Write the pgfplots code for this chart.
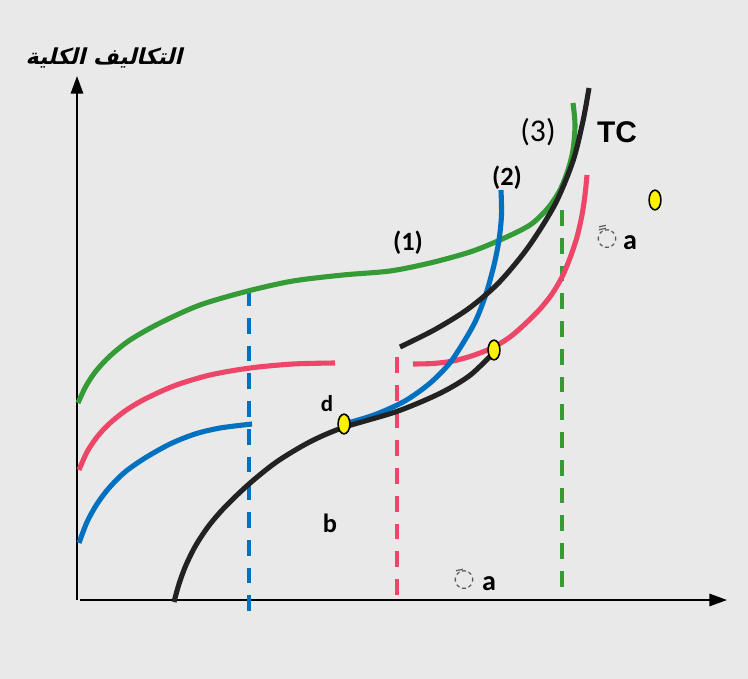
\documentclass[border=0pt]{standalone}
\usepackage{fontspec}
\setmainfont{Carlito}
\newfontfamily\arial{Liberation Sans}
\newfontfamily\dejavu[Script=Arabic]{DejaVu Sans}
\newfontfamily\arabicfont[Script=Arabic,FakeSlant=0.25]{DejaVu Sans}
\TeXXeTstate=1
\usepackage{pgfplots}
\pgfplotsset{compat=1.18}
\usetikzlibrary{arrows.meta}

\definecolor{bg}{HTML}{E9E9E9}
\definecolor{cgreen}{RGB}{53,155,55}
\definecolor{cpink}{RGB}{238,70,105}
\definecolor{cblue}{RGB}{0,112,192}
\definecolor{cblack}{RGB}{34,34,34}

\begin{document}
\begin{tikzpicture}
\begin{axis}[
  width=14.96cm, height=13.58cm, scale only axis,
  xmin=0, xmax=748, ymin=0, ymax=679, y dir=reverse,
  axis lines=none, ticks=none, clip=false,
  axis background/.style={fill=bg},
  every axis plot/.append style={line width=2.9pt, line cap=butt},
  dashes/.style={line width=1.9pt, dash pattern=on 9pt off 6.8pt},
]

% axes
\addplot[black, line width=1.2pt, -{Triangle[length=10pt,width=7pt]}]
  coordinates {(77,600) (77,76)};
\addplot[black, line width=1.2pt, -{Triangle[length=10pt,width=7pt]}]
  coordinates {(80,600) (727,600)};

% dashed verticals
\addplot[cblue, dashes] coordinates {(249,290) (249,612)};
\addplot[cpink, dashes] coordinates {(397,357) (397,598)};
\addplot[cgreen, dashes] coordinates {(562,210) (562,592)};

% curve (1), green
\addplot[cgreen, smooth] coordinates {
  (78,403) (86,386) (96,371) (110,356) (130,340) (160,323) (200,305)
  (248,291) (293,281) (343,275) (390,271) (430,263) (470,252) (500,240)
  (530,225) (548,208) (560,190) (568,170) (573,150) (575,125) (573,103)};

% pink curves
\addplot[cpink, smooth] coordinates {
  (79,470) (87,452) (97,437) (109,424) (125,411) (145,399) (175,385.5)
  (210,375) (250,368) (293,364) (335,363)};
\addplot[cpink, smooth] coordinates {
  (413,364) (433,363.5) (453,361) (473,355.5) (493,347.5) (510,337)
  (525,324) (540,309) (552,294) (562,277) (570,258) (577,237) (582,215)
  (585,195) (587,175)};

% blue curves
\addplot[cblue, smooth] coordinates {
  (79,543) (87,522) (97,504) (109,488) (125,472) (145,458) (170,444)
  (195,434) (220,428) (252,424)};
\addplot[cblue, smooth] coordinates {
  (344,424) (374,415) (404,401.5) (429,384) (449,364) (464,341.5)
  (476,320) (486,294) (494,265) (499,240) (501.5,215) (501,190)};

% TC, black
\addplot[cblack, smooth] coordinates {
  (174,602) (179,584) (186,565) (196,545) (209,525.5) (225,507) (249,484)
  (277,461.6) (310,441.8) (343,427.6) (397,411.4) (440,393.3) (470,375.3)
  (494,352.3)};
\addplot[cblack, smooth] coordinates {
  (400,347) (435,329.5) (468,309) (498,283.5) (528,247.5) (555,204.3)
  (573,161) (583,121) (589,88)};

% highlighted points
\addplot[only marks, mark=*, mark size=5.6pt,
  mark options={fill=yellow, draw=black, line width=0.9pt, xscale=0.6}]
  coordinates {(344,424) (494,350) (655,200)};

% labels
\node[font=\fontsize{12.5}{15}\selectfont\arabicfont\bfseries]
  at (axis cs:104,58) {\beginR التكاليف الكلية\endR};
\node[font=\fontsize{15}{18}\selectfont\bfseries] at (axis cs:408,243) {(1)};
\node[font=\fontsize{15}{18}\selectfont\bfseries] at (axis cs:507,178) {(2)};
\node[font=\fontsize{18}{21}\selectfont] at (axis cs:538,132) {(3)};
\node[font=\fontsize{17}{20}\selectfont\arial\bfseries] at (axis cs:617,132) {TC};
\node[font=\fontsize{13}{15}\selectfont\bfseries] at (axis cs:327,404) {d};
\node[font=\fontsize{15}{18}\selectfont\bfseries] at (axis cs:330,523) {b};
\node[font=\fontsize{16}{19}\selectfont\bfseries] at (axis cs:489,584) {a};
\node[font=\fontsize{16}{19}\selectfont\bfseries] at (axis cs:630,243) {a};
\node[font=\fontsize{14}{16}\selectfont\dejavu, black!65] at (axis cs:464,579) {◌َ};
\node[font=\fontsize{14}{16}\selectfont\dejavu, black!65] at (axis cs:607,237) {◌ً};

\end{axis}
\end{tikzpicture}
\end{document}
